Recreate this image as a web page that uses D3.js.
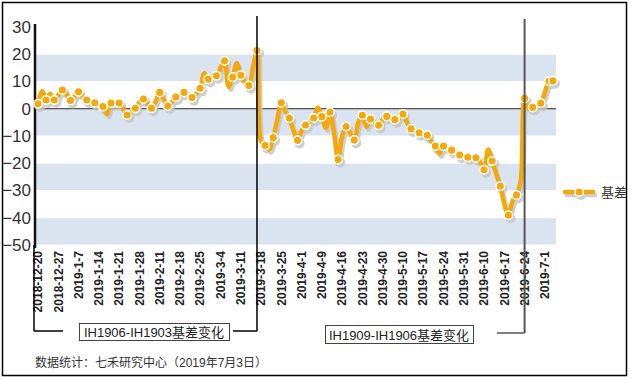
<!DOCTYPE html>
<html>
<head>
<meta charset="utf-8">
<script src="https://cdn.jsdelivr.net/npm/d3@7"></script>
<style>
  body { margin: 0; background: #fff; }
  svg text { font-family: "Liberation Sans", Arial, "Noto Sans CJK SC", sans-serif; }
</style>
</head>
<body>
<div id="chart-area"></div>
<script>
// canvas size
const W = 634
const H = 380
const PLOT = { LEFT: 36, RIGHT: 555, TOP: 27, BOTTOM: 245 }

// tick labels on the category axis (every 5th trading day)
const tickLabels = ["2018-12-20", "2018-12-27", "2019-1-7", "2019-1-14", "2019-1-21", "2019-1-28",
  "2019-2-11", "2019-2-18", "2019-2-25", "2019-3-4", "2019-3-11", "2019-3-18", "2019-3-25",
  "2019-4-1", "2019-4-9", "2019-4-16", "2019-4-23", "2019-4-30", "2019-5-10", "2019-5-17",
  "2019-5-24", "2019-5-31", "2019-6-10", "2019-6-17", "2019-6-24", "2019-7-1"]
const tickEvery = 5

// daily basis values (基差), one per trading day
const basis = [
  1.8, 6.5, 3.2, 5.5, 3.2, 5.0, 6.9, 5.5, 3.0, 4.5,
  6.2, 4.5, 3.2, 2.5, 2.2, 1.5, 0.8, -2.0, 2.1, 2.5,
  2.1, 0.0, -2.3, -1.0, 0.2, 2.5, 3.6, 1.8, 0.2, 2.6,
  6.0, 3.5, 1.0, 2.5, 4.3, 5.0, 6.0, 5.0, 4.1, 5.5,
  7.5, 13.0, 10.8, 12.0, 12.1, 15.0, 17.6, 8.1, 11.6, 16.7,
  12.3, 10.0, 8.5, 15.0, 21.4, -12.0, -13.5, -15.0, -10.6, -4.0,
  2.2, -1.0, -3.5, -8.0, -11.6, -8.0, -6.0, -5.0, -3.4, 0.5,
  -2.9, -7.0, -1.3, -9.0, -18.6, -10.0, -6.5, -9.0, -11.5, -5.0,
  -2.4, -6.6, -3.8, -5.0, -6.1, -4.0, -2.8, -3.5, -4.0, -3.5,
  -1.9, -5.0, -7.4, -8.0, -8.8, -9.5, -9.7, -12.0, -13.7, -16.5,
  -13.7, -14.5, -15.2, -16.0, -17.0, -17.5, -17.8, -18.0, -18.0, -19.5,
  -22.4, -15.0, -19.2, -24.0, -28.4, -35.0, -39.1, -34.0, -31.7, -27.0,
  3.8, 0.0, 0.5, 1.0, 2.0, 6.0, 10.1, 10.3]

const yTicks = [30, 20, 10, 0, -10, -20, -30, -40, -50]

// contract roll-over points (category index) and their captions
const rollIndex = [54, 120]
const rollLabels = ["IH1906-IH1903基差变化", "IH1909-IH1906基差变化"]

const seriesName = "基差"
const sourceNote = "数据统计：七禾研究中心（2019年7月3日）"

const ORANGE = "#f4a80c"
const BAND = "#dae4f0"
const SHADOW = "#c4c4c4"

const svg = d3.select("#chart-area").append("svg")
  .attr("width", W)
  .attr("height", H)

// outer frame
svg.append("rect")
  .attr("x", 2.5).attr("y", 2.5)
  .attr("width", 624).attr("height", 373)
  .attr("fill", "#fff")
  .attr("stroke", "#000")
  .attr("stroke-width", 1.5)

const x = d3.scaleBand()
  .domain(d3.range(basis.length))
  .range([PLOT.LEFT, PLOT.RIGHT])

const cx = i => x(i) + x.bandwidth() / 2

const y = d3.scaleLinear()
  .domain([-50, 30])
  .range([PLOT.BOTTOM, PLOT.TOP])

// alternating bands between ticks
const bands = d3.range(yTicks.length - 1).filter(i => i % 2 === 1)
svg.append("g").selectAll("rect")
  .data(bands)
  .join("rect")
  .attr("x", PLOT.LEFT)
  .attr("width", PLOT.RIGHT - PLOT.LEFT + 1)
  .attr("y", i => y(yTicks[i]) + 0.5)
  .attr("height", i => y(yTicks[i + 1]) - y(yTicks[i]) - 1)
  .attr("fill", BAND)

// zero line
svg.append("line")
  .attr("x1", PLOT.LEFT).attr("x2", PLOT.RIGHT + 1)
  .attr("y1", y(0)).attr("y2", y(0))
  .attr("stroke", "#222")
  .attr("stroke-width", 1)

// y axis
const yAxis = svg.append("g")
  .attr("transform", `translate(${PLOT.LEFT - 1}, 0)`)
  .call(d3.axisLeft(y).tickValues(yTicks).tickSize(0).tickPadding(4))
yAxis.select(".domain")
  .attr("d", `M0,${PLOT.TOP - 3}V${PLOT.BOTTOM + 3}`)
  .attr("stroke", "#111")
  .attr("stroke-width", 2.5)
yAxis.selectAll("text")
  .attr("font-size", "17px")
  .attr("fill", "#333")
  .attr("font-family", "'Liberation Sans', Arial, sans-serif")

// x axis labels (vertical)
const xAxis = svg.append("g")
  .attr("transform", `translate(0, ${PLOT.BOTTOM})`)
  .call(d3.axisBottom(x)
    .tickValues(d3.range(0, basis.length, tickEvery))
    .tickFormat(i => tickLabels[i / tickEvery])
    .tickSize(0))
xAxis.select(".domain").remove()
xAxis.selectAll("text")
  .attr("font-size", "12px")
  .attr("font-weight", "bold")
  .attr("fill", "#222")
  .attr("text-anchor", "end")
  .attr("transform", "rotate(-90)")
  .attr("x", -6)
  .attr("y", 0)
  .attr("dy", "0.35em")

// data line with shadow
const line = d3.line()
  .x((d, i) => cx(i))
  .y(d => y(d))
  .curve(d3.curveCatmullRom.alpha(0.5))

const markerIdx = d3.range(basis.length).filter(i => i % 2 === 0 || i === basis.length - 1)

function drawSeries(g, color, stroke) {
  g.append("path")
    .datum(basis)
    .attr("d", line)
    .attr("fill", "none")
    .attr("stroke", color)
    .attr("stroke-width", 4.5)
    .attr("stroke-linejoin", "round")
    .attr("stroke-linecap", "round")
  g.selectAll("circle")
    .data(markerIdx)
    .join("circle")
    .attr("cx", i => cx(i))
    .attr("cy", i => y(basis[i]))
    .attr("r", 4.3)
    .attr("fill", color)
    .attr("stroke", stroke)
    .attr("stroke-width", 1.5)
}

const shadow = svg.append("g")
  .attr("transform", "translate(2, 3)")
  .attr("opacity", 0.8)
drawSeries(shadow, SHADOW, SHADOW)
drawSeries(svg.append("g"), ORANGE, "#fff")

// roll-over brackets
const br = [
  { xi: rollIndex[0], top: 16, by: 331, left: 34, hl: [34, 63], hr: [233, null], box: [79, 323, 150, 17], color: "#000", w: 1.5 },
  { xi: rollIndex[1], top: 19, by: 333, left: null, hl: null, hr: [497, null], box: [325, 325, 148, 18], color: "#555", w: 2 }
]
br.forEach((b, k) => {
  const vx = cx(b.xi)
  const g = svg.append("g")
  g.append("line")
    .attr("x1", vx).attr("x2", vx)
    .attr("y1", b.top).attr("y2", b.by)
    .attr("stroke", b.color).attr("stroke-width", b.w)
  g.append("line")
    .attr("x1", b.hr[0]).attr("x2", vx)
    .attr("y1", b.by).attr("y2", b.by)
    .attr("stroke", b.color).attr("stroke-width", 1.5)
  if (b.left !== null) {
    g.append("line")
      .attr("x1", b.left).attr("x2", b.left)
      .attr("y1", PLOT.BOTTOM).attr("y2", b.by)
      .attr("stroke", "#000").attr("stroke-width", 1.5)
    g.append("line")
      .attr("x1", b.hl[0]).attr("x2", b.hl[1])
      .attr("y1", b.by).attr("y2", b.by)
      .attr("stroke", "#000").attr("stroke-width", 1.5)
  }
  g.append("rect")
    .attr("x", b.box[0] + 0.5).attr("y", b.box[1] + 0.5)
    .attr("width", b.box[2]).attr("height", b.box[3])
    .attr("fill", "#fff")
    .attr("stroke", "#444")
    .attr("stroke-width", 1)
  g.append("text")
    .attr("x", b.box[0] + b.box[2] / 2)
    .attr("y", b.box[1] + b.box[3] / 2 + 1)
    .attr("dy", "0.35em")
    .attr("text-anchor", "middle")
    .attr("font-size", "13px")
    .attr("fill", "#222")
    .text(rollLabels[k])
})

// legend
const lg = svg.append("g").attr("transform", "translate(565, 192)")
const drawLegend = (g, color, stroke) => {
  g.append("line").attr("x1", 0).attr("x2", 28).attr("y1", 0).attr("y2", 0)
    .attr("stroke", color).attr("stroke-width", 4.5).attr("stroke-linecap", "round")
  g.append("circle").attr("cx", 14).attr("cy", 0).attr("r", 4.3)
    .attr("fill", color).attr("stroke", stroke).attr("stroke-width", 1.5)
}
drawLegend(lg.append("g").attr("transform", "translate(2, 3)").attr("opacity", 0.8), SHADOW, SHADOW)
drawLegend(lg, ORANGE, "#fff")
lg.append("text")
  .attr("x", 36).attr("y", 0).attr("dy", "0.35em")
  .attr("font-size", "13px")
  .attr("fill", "#333")
  .text(seriesName)

// source note
svg.append("text")
  .attr("x", 35).attr("y", 367)
  .attr("font-size", "12px")
  .attr("fill", "#333")
  .text(sourceNote)
</script>
</body>
</html>
